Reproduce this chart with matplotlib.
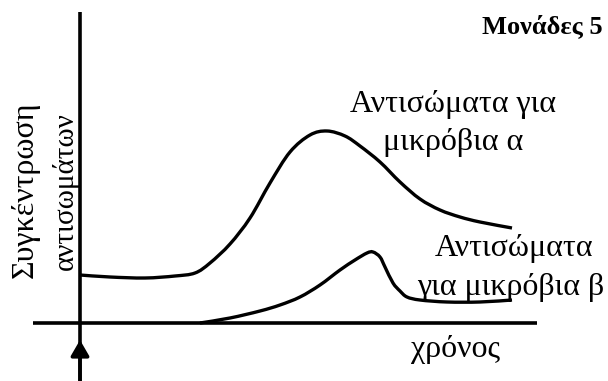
import matplotlib
matplotlib.use("Agg")
import matplotlib.pyplot as plt
from matplotlib.path import Path
from matplotlib.patches import PathPatch

plt.rcParams['font.family'] = ['Liberation Serif', 'DejaVu Serif']

# antibody level vs time (arbitrary units)
t_a = [0, 3, 6.5, 9.5, 11.5, 13, 15, 17, 19, 21, 23, 24.7, 26.5, 28, 30, 32, 34, 36, 38, 40, 43.2]
c_a = [4.8, 4.6, 4.5, 4.7, 5.0, 6.0, 7.9, 10.5, 14.0, 17.1, 18.8, 19.2, 18.7, 17.7, 16.1, 14.1, 12.4, 11.3, 10.6, 10.1, 9.5]

t_b = [12, 15, 18, 20, 22, 24, 26, 27.5, 28.7, 29.3, 30, 30.5, 31.3, 32, 32.7, 34, 36.7, 40, 43.2]
c_b = [0, 0.5, 1.2, 1.8, 2.6, 3.8, 5.3, 6.3, 7.0, 7.1, 6.6, 5.6, 4.0, 3.2, 2.6, 2.3, 2.1, 2.1, 2.3]

label_a = ["Αντισώματα για", "μικρόβια α"]
label_b = ["Αντισώματα", "για μικρόβια β"]
x_label = "χρόνος"
y_label = ["Συγκέντρωση", "αντισωμάτων"]
marks = "Μονάδες 5"


def smooth_path(xs, ys):
    # Catmull-Rom through the points, written as cubic bezier segments
    pts = list(zip(xs, ys))
    verts = [pts[0]]
    codes = [Path.MOVETO]
    for i in range(len(pts) - 1):
        p0 = pts[i - 1] if i > 0 else pts[i]
        p1, p2 = pts[i], pts[i + 1]
        p3 = pts[i + 2] if i + 2 < len(pts) else pts[i + 1]
        c1 = (p1[0] + (p2[0] - p0[0]) / 6, p1[1] + (p2[1] - p0[1]) / 6)
        c2 = (p2[0] - (p3[0] - p1[0]) / 6, p2[1] - (p3[1] - p1[1]) / 6)
        verts += [c1, c2, p2]
        codes += [Path.CURVE4] * 3
    return Path(verts, codes)


fig = plt.figure(figsize=(6.08, 3.81), dpi=100)
ax = fig.add_axes([0, 0, 1, 1])
ax.set_xlim(-8.0, 52.8)
ax.set_ylim(-5.8, 32.3)
ax.axis('off')

# axes drawn by hand
ax.plot([-4.7, 45.7], [0, 0], color='black', lw=2.6, solid_capstyle='butt')
ax.plot([0, 0], [-5.8, 31.1], color='black', lw=2.6, solid_capstyle='butt')
ax.annotate('', xy=(0, -1.7), xytext=(0, -5.8),
            arrowprops=dict(arrowstyle='-|>,head_length=0.95,head_width=0.55',
                            mutation_scale=10, color='black', lw=2.6,
                            shrinkA=0, shrinkB=0))

for xs, ys in [(t_a, c_a), (t_b, c_b)]:
    ax.add_patch(PathPatch(smooth_path(xs, ys), facecolor='none',
                           edgecolor='black', lw=2.4, capstyle='butt'))

ax.text(52.3, 29.0, marks, ha='right', va='baseline', fontsize=19, fontweight='bold')
ax.text(27.0, 21.1, label_a[0], ha='left', va='baseline', fontsize=23)
ax.text(30.3, 17.3, label_a[1], ha='left', va='baseline', fontsize=23)
ax.text(35.5, 6.7, label_b[0], ha='left', va='baseline', fontsize=23)
ax.text(33.7, 2.8, label_b[1], ha='left', va='baseline', fontsize=23)
ax.text(37.6, -3.4, x_label, ha='center', va='baseline', fontsize=23)

ax.text(-5.5, 13.3, y_label[0], rotation=90, ha='center', va='center', fontsize=23)
ax.text(-1.5, 13.2, y_label[1], rotation=90, ha='center', va='center', fontsize=21)

fig.savefig('out.png', dpi=100)
